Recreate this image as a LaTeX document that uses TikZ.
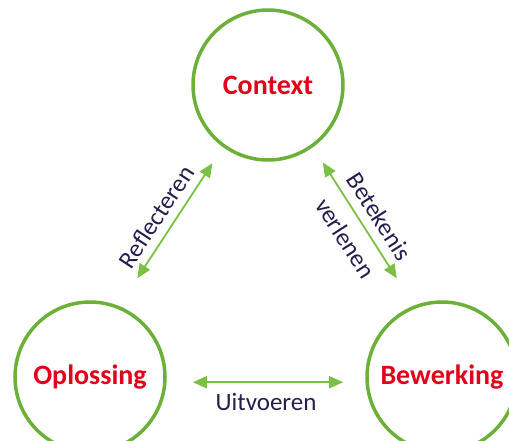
\documentclass[tikz,border=0pt]{standalone}
\usepackage{fontspec}
\setmainfont{Carlito}
\usetikzlibrary{arrows.meta}
\usetikzlibrary{positioning}
\definecolor{ringgreen}{RGB}{108,176,58}
\definecolor{arrowgreen}{RGB}{122,192,66}
\definecolor{labelred}{RGB}{226,0,26}
\definecolor{labelnavy}{RGB}{36,32,78}

\begin{document}
\begin{tikzpicture}
    [x=1pt,y=-1pt,
ringnodes/.style={circle, draw=ringgreen, line width=3.5pt, minimum size=150pt, inner sep=0pt, outer sep=0pt, text=labelred, font=\fontsize{28}{34}\selectfont\bfseries},
twoway/.style={draw=arrowgreen, line width=1.8pt, {Triangle[length=14pt,width=12pt]}-{Triangle[length=14pt,width=12pt]}},
steplabel/.style={text=labelnavy, font=\fontsize{25}{30}\selectfont, inner sep=0pt}
]
\useasboundingbox (0,0) rectangle (509,441);
\clip (0,0) rectangle (509,441);
\node[ringnodes](opl) at (90,377){Oplossing};
\node[ringnodes](bew)[right=202pt of opl]{Bewerking};
\node[ringnodes](ctx)[above=142pt of opl,xshift=178pt]{Context};

\draw[twoway,shorten <=35pt,shorten >=21pt] (opl.68) to node[steplabel,sloped,above=8pt]{Reflecteren} (ctx.234);
\draw[twoway,shorten <=20pt,shorten >=34pt] (ctx.306) to node[steplabel,sloped,above=9pt]{Betekenis} node[steplabel,sloped,below=12pt]{verlenen} (bew.111);
\draw[twoway,shorten <=28pt,shorten >=24pt] (opl.-4.6) to node[steplabel,below=10pt]{Uitvoeren} (bew.184.6);
\end{tikzpicture}
\end{document}
